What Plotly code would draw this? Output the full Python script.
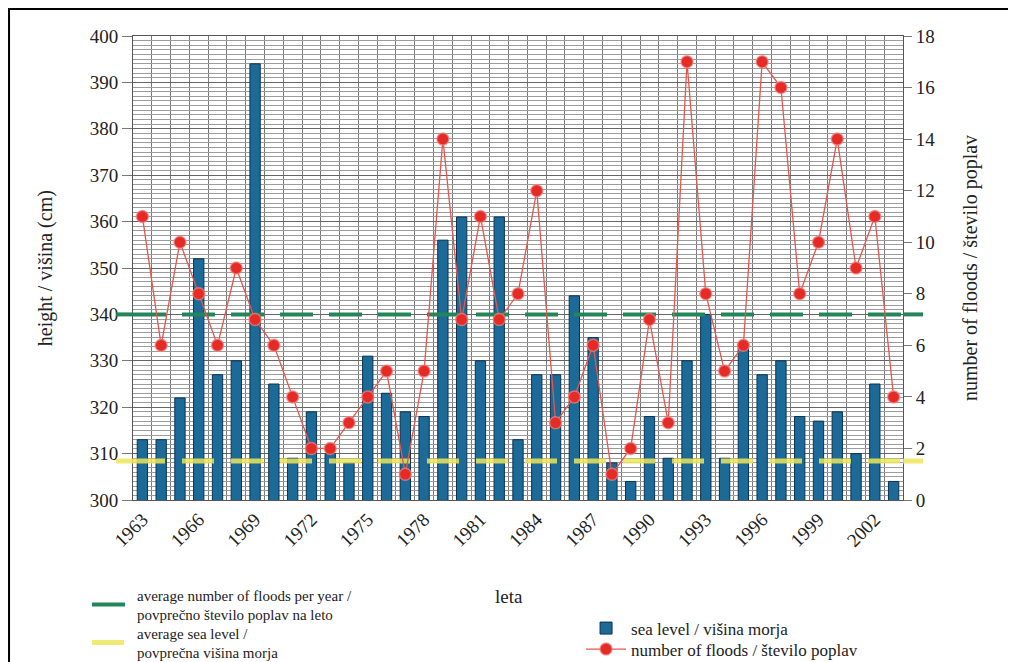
import plotly.graph_objects as go

years = list(range(1963, 2004))
sea_level = [313, 313, 322, 352, 327, 330, 394, 325, 309, 319,
             310, 308, 331, 323, 319, 318, 356, 361, 330, 361,
             313, 327, 327, 344, 335, 308, 304, 318, 309, 330,
             340, 309, 333, 327, 330, 318, 317, 319, 310, 325,
             304]
floods = [11, 6, 10, 8, 6, 9, 7, 6, 4, 2,
          2, 3, 4, 5, 1, 5, 14, 7, 11, 7,
          8, 12, 3, 4, 6, 1, 2, 7, 3, 17,
          8, 5, 6, 17, 16, 8, 10, 14, 9, 11,
          4]
avg_floods = 7.2
avg_sea_level = 308.4
tick_years = years[::3]

FONT = "Liberation Serif, serif"
GREEN = "#23855a"
YELLOW = "rgba(236,230,90,0.85)"
BLUE = "#1b6a98"
RED = "#e52b25"

fig = go.Figure()

fig.add_trace(go.Bar(
    x=years, y=sea_level, width=0.55,
    marker=dict(color=BLUE, line=dict(color="#0b3350", width=1)),
    name="sea level / višina morja", legend="legend2",
))

fig.add_trace(go.Scatter(
    x=[years[0] - 0.5, years[-1] + 0.5], y=[avg_sea_level, avg_sea_level],
    mode="lines", line=dict(color=YELLOW, width=5, dash="32px,17px"),
    name="average sea level /<br>povprečna višina morja",
    legend="legend3", hoverinfo="skip",
))
fig.add_trace(go.Scatter(
    x=[years[0] - 0.5, years[-1] + 0.5], y=[avg_floods, avg_floods], yaxis="y2",
    mode="lines", line=dict(color=GREEN, width=4, dash="33px,16px"),
    name="average number of floods per year /<br>povprečno število poplav na leto",
    legend="legend", hoverinfo="skip",
))

fig.add_trace(go.Scatter(
    x=years, y=floods, yaxis="y2", mode="lines+markers",
    line=dict(color="#e4564e", width=1.3),
    marker=dict(color=RED, size=12, line=dict(color="rgba(245,130,130,0.7)", width=1.5)),
    name="number of floods / število poplav", legend="legend4",
))

shapes = []
for x0, x1 in [(-0.022, 0.0), (1.0, 1.026)]:
    shapes.append(dict(type="line", xref="paper", yref="y2", x0=x0, x1=x1,
                       y0=avg_floods, y1=avg_floods,
                       line=dict(color=GREEN, width=4), layer="above"))
    shapes.append(dict(type="line", xref="paper", yref="y", x0=x0, x1=x1,
                       y0=avg_sea_level, y1=avg_sea_level,
                       line=dict(color=YELLOW, width=5), layer="above"))
shapes.append(dict(type="rect", xref="paper", yref="paper",
                   x0=-0.161, x1=1.140, y0=-0.40, y1=1.058,
                   line=dict(color="black", width=2), layer="below"))

annotations = [
    dict(text="height / višina (cm)", xref="paper", yref="paper", x=-0.114, y=0.5,
         textangle=-90, showarrow=False, font=dict(size=20), xanchor="center", yanchor="middle"),
    dict(text="number of floods / število poplav", xref="paper", yref="paper", x=1.087, y=0.5,
         textangle=-90, showarrow=False, font=dict(size=20), xanchor="center", yanchor="middle"),
    dict(text="leta", xref="paper", yref="paper", x=0.488, y=-0.209,
         showarrow=False, font=dict(size=19), xanchor="center", yanchor="middle"),
]

legend_left = dict(xref="container", yref="container", xanchor="left", yanchor="top",
                   font=dict(size=15, family=FONT), bgcolor="rgba(0,0,0,0)",
                   itemwidth=40)
legend_right = dict(xref="container", yref="container", xanchor="left", yanchor="top",
                    font=dict(size=17, family=FONT), bgcolor="rgba(0,0,0,0)",
                    itemwidth=40)

fig.update_layout(
    width=1008, height=654,
    margin=dict(l=125, r=113, t=28, b=162, autoexpand=False),
    paper_bgcolor="white", plot_bgcolor="white",
    font=dict(family=FONT, size=18, color="#222"),
    shapes=shapes,
    annotations=annotations,
    xaxis=dict(
        range=[years[0] - 0.5, years[-1] + 0.5],
        tickmode="array", tickvals=tick_years, ticktext=[str(y) for y in tick_years],
        tickangle=-45, ticks="", showgrid=False, tickfont=dict(size=19, family=FONT),
        showline=True, linecolor="#555", linewidth=1, mirror=True,
        minor=dict(tickmode="linear", tick0=years[0] - 0.5, dtick=1,
                   showgrid=True, gridcolor="#7a7a7a", gridwidth=1, ticks=""),
        zeroline=False, automargin=False,
    ),
    yaxis=dict(
        range=[300, 400], dtick=10, tick0=300,
        showgrid=True, gridcolor="#666", gridwidth=1,
        minor=dict(dtick=1, showgrid=True, gridcolor="#9c9c9c", gridwidth=1),
        ticks="outside", ticklen=10, tickcolor="#777", tickfont=dict(size=19, family=FONT),
        showline=True, linecolor="#555", linewidth=1,
        zeroline=False, automargin=False,
    ),
    yaxis2=dict(
        range=[0, 18], dtick=2, overlaying="y", side="right",
        showgrid=False, ticks="outside", ticklen=8, tickcolor="#777",
        tickfont=dict(size=19, family=FONT),
        showline=True, linecolor="#555", linewidth=1,
        zeroline=False, automargin=False,
    ),
    legend=dict(x=0.0784, y=0.1277, **legend_left),
    legend3=dict(x=0.0784, y=0.0696, **legend_left),
    legend2=dict(x=0.5685, y=0.0787, **legend_right),
    legend4=dict(x=0.5685, y=0.0466, **legend_right),
    showlegend=True,
)

fig.write_html("out.html")
